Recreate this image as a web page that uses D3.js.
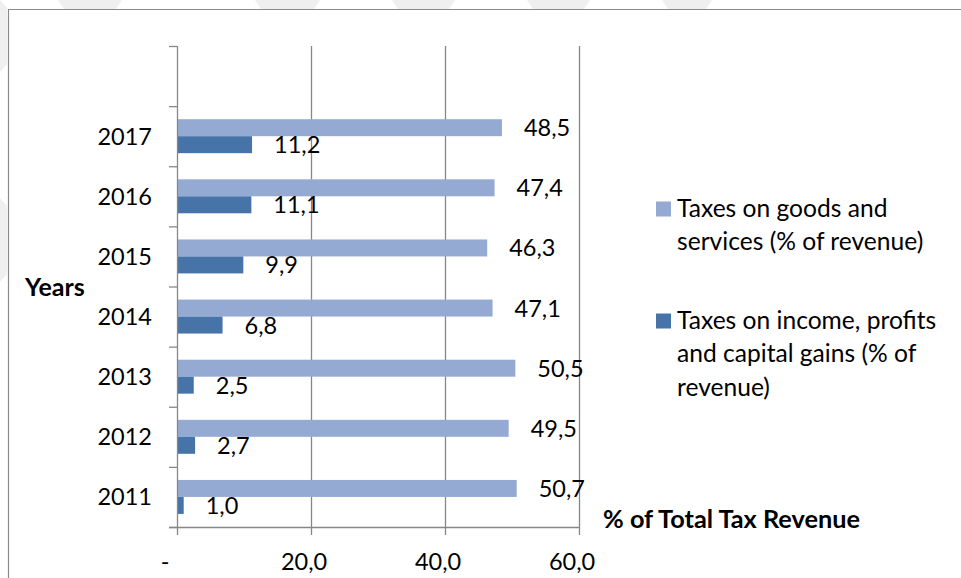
<!DOCTYPE html>
<html>
<head>
<meta charset="utf-8">
<script src="https://cdn.jsdelivr.net/npm/d3@7"></script>
<style>
  html, body { margin: 0; padding: 0; background: #fff; }
  svg { display: block; }
  text { font-family: Lato, "Open Sans", sans-serif; fill: #000; }
</style>
</head>
<body>
<svg id="chart" width="961" height="578"></svg>
<script>
// Tax revenue shares by year
const years = ["2011", "2012", "2013", "2014", "2015", "2016", "2017"];
const goodsServices = [50.7, 49.5, 50.5, 47.1, 46.3, 47.4, 48.5];
const incomeProfits = [1.0, 2.7, 2.5, 6.8, 9.9, 11.1, 11.2];
const seriesNames = [
  "Taxes on goods and services (% of revenue)",
  "Taxes on income, profits and capital gains (% of revenue)"
];
const legendLines = [
  ["Taxes on goods and", "services (% of revenue)"],
  ["Taxes on income, profits", "and capital gains (% of", "revenue)"]
];
const xTicks = [0, 20, 40, 60];
const xTickLabels = ["-", "20,0", "40,0", "60,0"];
const colors = ["#95aad2", "#4674a8"];

const svg = d3.select("#chart");
const W = 961, H = 578;
const plot = { left: 177, right: 579, top: 46, bottom: 527 };
const gridColor = "#878787";

// faint background ribbons peeking out around the chart frame
const ribbons = svg.append("g").attr("fill", "#efefef");
[[58, 122], [255, 320], [392, 455], [527, 590], [662, 712]].forEach(([a, b]) => {
  ribbons.append("path").attr("d", `M${a},0 L${b},0 L${b - 6},9 L${a + 6},9 Z`);
});
[[0, 72], [198, 282]].forEach(([a, b]) => {
  ribbons.append("path").attr("d", `M0,${a} L7,${a + 8} L7,${b - 8} L0,${b} Z`);
});

// chart frame
svg.append("path")
  .attr("d", `M8.5,${H} L8.5,9.5 L${W},9.5`)
  .attr("fill", "none").attr("stroke", "#8a8a8a").attr("stroke-width", 1.2);

const x = d3.scaleLinear().domain([0, 60]).range([plot.left, plot.right]);
const step = (plot.bottom - plot.top) / (years.length + 1);
const y = d3.scaleBand().domain(years).range([plot.bottom, plot.top + step]).padding(0);
const inner = d3.scaleBand().domain([0, 1]).range([0, y.bandwidth()])
  .paddingInner(0).paddingOuter(0.77);

// vertical gridlines
svg.append("g").selectAll("line").data(xTicks.slice(1)).join("line")
  .attr("x1", d => x(d) + 0.5).attr("x2", d => x(d) + 0.5)
  .attr("y1", plot.top).attr("y2", plot.bottom)
  .attr("stroke", gridColor).attr("stroke-width", 1.3);

// bars
const rows = years.map((yr, i) => ({ yr, vals: [goodsServices[i], incomeProfits[i]] }));
const barG = svg.append("g");
rows.forEach(r => {
  r.vals.forEach((v, s) => {
    barG.append("rect")
      .attr("x", x(0)).attr("y", y(r.yr) + inner(s))
      .attr("width", x(v) - x(0)).attr("height", inner.bandwidth())
      .attr("fill", colors[s]);
  });
});

// value labels
const fmt = v => v.toFixed(1).replace(".", ",");
const labG = svg.append("g").attr("font-size", 23.5);
rows.forEach(r => {
  r.vals.forEach((v, s) => {
    labG.append("text")
      .attr("x", x(v) + 22)
      .attr("y", y(r.yr) + inner(s) + inner.bandwidth() / 2)
      .attr("dy", "0.36em")
      .text(fmt(v));
  });
});

// y axis with category ticks at band boundaries
const yAxisG = svg.append("g");
yAxisG.append("line")
  .attr("x1", plot.left + 0.5).attr("x2", plot.left + 0.5)
  .attr("y1", plot.top).attr("y2", plot.bottom)
  .attr("stroke", gridColor).attr("stroke-width", 1.3);
const boundaries = d3.range(years.length + 2).map(i => plot.top + i * step);
yAxisG.selectAll(".tk").data(boundaries).join("line")
  .attr("x1", plot.left - 8).attr("x2", plot.left)
  .attr("y1", d => d + 0.5).attr("y2", d => d + 0.5)
  .attr("stroke", gridColor).attr("stroke-width", 1.3);
yAxisG.selectAll("text").data(years).join("text")
  .attr("x", 152).attr("y", d => y(d) + y.bandwidth() / 2)
  .attr("dy", "0.36em").attr("text-anchor", "end").attr("font-size", 23.5)
  .text(d => d);

// x axis
const xAxisG = svg.append("g");
xAxisG.append("line")
  .attr("x1", plot.left - 8).attr("x2", plot.right + 1)
  .attr("y1", plot.bottom + 0.5).attr("y2", plot.bottom + 0.5)
  .attr("stroke", gridColor).attr("stroke-width", 1.3);
xAxisG.selectAll("line.tk").data(xTicks).join("line").attr("class", "tk")
  .attr("x1", d => x(d) + 0.5).attr("x2", d => x(d) + 0.5)
  .attr("y1", plot.bottom).attr("y2", plot.bottom + 8)
  .attr("stroke", gridColor).attr("stroke-width", 1.3);
xAxisG.selectAll("text").data(xTicks).join("text")
  .attr("x", (d, i) => x(d) - (i === 0 ? 12 : 7))
  .attr("y", 570).attr("text-anchor", "middle").attr("font-size", 23.5)
  .text((d, i) => xTickLabels[i]);

// axis titles
svg.append("text").attr("x", 25).attr("y", 296)
  .attr("font-size", 25).attr("font-weight", "bold").text("Years");
svg.append("text").attr("x", 603).attr("y", 528)
  .attr("font-size", 25.3).attr("font-weight", "bold").text("% of Total Tax Revenue");

// legend
const legend = svg.append("g");
const legendTops = [201.5, 313.5];
seriesNames.forEach((name, s) => {
  const g = legend.append("g").attr("aria-label", name);
  g.append("rect").attr("x", 656).attr("y", legendTops[s])
    .attr("width", 15).attr("height", 15).attr("fill", colors[s]);
  legendLines[s].forEach((ln, k) => {
    g.append("text").attr("x", 677).attr("y", legendTops[s] + 15 + k * 33.5)
      .attr("font-size", 24.6).text(ln);
  });
});
</script>
</body>
</html>
